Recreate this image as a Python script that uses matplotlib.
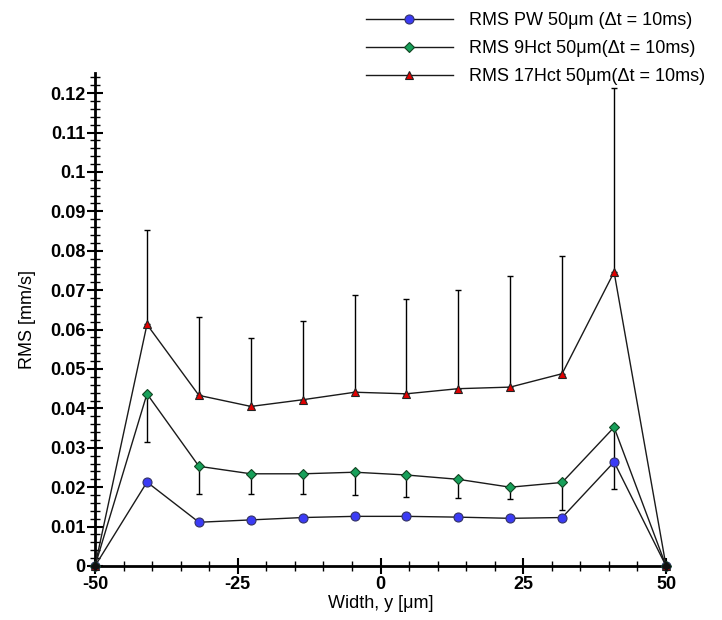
import matplotlib
matplotlib.use("Agg")
import matplotlib.pyplot as plt
from matplotlib.ticker import MultipleLocator

plt.rcParams["font.family"] = ["Liberation Sans", "DejaVu Sans"]

# data
width_y = [-50, -40.9, -31.8, -22.7, -13.6, -4.5, 4.5, 13.6, 22.7, 31.8, 40.9, 50]

rms_pw = [0, 0.0213, 0.0111, 0.0117, 0.0123, 0.0126, 0.0126, 0.0124, 0.0121, 0.0123, 0.0264, 0]

rms_9hct = [0, 0.0437, 0.0253, 0.0234, 0.0234, 0.0238, 0.0231, 0.0220, 0.0200, 0.0212, 0.0352, 0]
low_9hct = [0, 0.0123, 0.0070, 0.0051, 0.0051, 0.0059, 0.0056, 0.0047, 0.0030, 0.0069, 0.0156, 0]

rms_17hct = [0, 0.0613, 0.0433, 0.0405, 0.0422, 0.0441, 0.0437, 0.0450, 0.0454, 0.0488, 0.0746, 0]
up_17hct = [0, 0.0240, 0.0198, 0.0174, 0.0199, 0.0246, 0.0241, 0.0251, 0.0281, 0.0298, 0.0468, 0]

labels = ["RMS PW 50\u03bcm (\u0394t = 10ms)",
          "RMS 9Hct 50\u03bcm(\u0394t = 10ms)",
          "RMS 17Hct 50\u03bcm(\u0394t = 10ms)"]

fig = plt.figure(figsize=(7.22, 6.2), dpi=100)
ax = fig.add_axes([0.1316, 0.0871, 0.7909, 0.7944])

line_kw = dict(color="#1a1a1a", linewidth=1, clip_on=False, zorder=3)

# error bars: lower side for 9Hct, upper side for 17Hct
ax.errorbar(width_y, rms_9hct, yerr=[low_9hct, [0] * len(low_9hct)], fmt="none",
            ecolor="black", elinewidth=1, capsize=2.5, capthick=1, zorder=2)
ax.errorbar(width_y, rms_17hct, yerr=[[0] * len(up_17hct), up_17hct], fmt="none",
            ecolor="black", elinewidth=1, capsize=2.5, capthick=1, zorder=2)

ax.plot(width_y, rms_pw, marker="o", markersize=6.5, markerfacecolor="#3b3bf5",
        markeredgecolor="#333366", markeredgewidth=0.8, label=labels[0], **line_kw)
ax.plot(width_y, rms_9hct, marker="D", markersize=5, markerfacecolor="#17a05a",
        markeredgecolor="#114422", markeredgewidth=0.8, label=labels[1], **line_kw)
ax.plot(width_y, rms_17hct, marker="^", markersize=6, markerfacecolor="#e00000",
        markeredgecolor="#222222", markeredgewidth=0.8, label=labels[2], **line_kw)

# the two end points show up as small black diamonds
ends_x = [width_y[0], width_y[-1]]
ends_y = [rms_pw[0], rms_pw[-1]]
ax.plot(ends_x, ends_y, linestyle="none", marker="D", markersize=4.5,
        color="#111111", clip_on=False, zorder=4)

ax.set_xlim(-50, 50)
ax.set_ylim(0, 0.125)

ax.spines["top"].set_visible(False)
ax.spines["right"].set_visible(False)
ax.spines["left"].set_linewidth(2)
ax.spines["bottom"].set_linewidth(2)

ax.xaxis.set_minor_locator(MultipleLocator(5))
ax.yaxis.set_minor_locator(MultipleLocator(0.002))
ax.set_yticks([0, 0.01, 0.02, 0.03, 0.04, 0.05, 0.06, 0.07, 0.08, 0.09, 0.1, 0.11, 0.12])
ax.set_yticklabels(["0", "0.01", "0.02", "0.03", "0.04", "0.05", "0.06", "0.07",
                    "0.08", "0.09", "0.1", "0.11", "0.12"])
ax.set_xticks([-50, -25, 0, 25, 50])
ax.set_xticklabels(["-50", "-25", "0", "25", "50"])

ax.tick_params(which="major", direction="inout", length=12, width=1.5,
               labelsize=13, pad=1)
ax.tick_params(which="minor", direction="inout", length=7, width=1)
for t in ax.get_xticklabels() + ax.get_yticklabels():
    t.set_fontweight("bold")

ax.set_xlabel("Width, y [\u03bcm]", fontsize=13, labelpad=2)
ax.set_ylabel("RMS [mm/s]", fontsize=13, labelpad=10)

fig.legend(loc="upper left", bbox_to_anchor=(0.507, 0.98), frameon=False,
           fontsize=13, handlelength=4.8, handletextpad=0.9, labelspacing=0.6,
           borderpad=0, borderaxespad=0)

fig.savefig("out.png", dpi=100)
